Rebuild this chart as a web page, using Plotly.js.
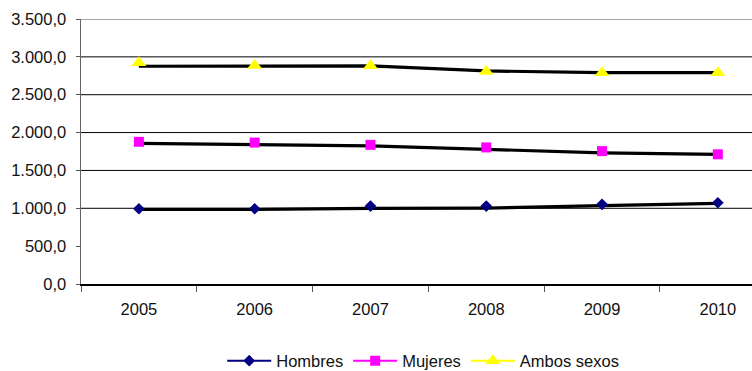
<!DOCTYPE html>
<html>
<head>
<meta charset="utf-8">
<script src="https://cdn.plot.ly/plotly-3.0.1.min.js"></script>
<style>
  html, body { margin: 0; padding: 0; background: #fff; }
  #chart { width: 752px; height: 371px; }
  /* legend entries keep full colour even though their traces only live in the legend */
  .legend .traces { opacity: 1 !important; }
</style>
</head>
<body>
<div id="chart"></div>
<script>
// Categories
const years = ['2005', '2006', '2007', '2008', '2009', '2010'];

// Series values (markers)
const hombres = [994, 994, 1029, 1029, 1052, 1073];
const mujeres = [1878, 1868, 1838, 1804, 1755, 1713];
const ambosSexos = [2923, 2886, 2884, 2808, 2791, 2791];

// Black trend lines drawn through each series
const hombresTrend = [986, 986, 999, 1003, 1034, 1065];
const mujeresTrend = [1857, 1839, 1825, 1778, 1733, 1712];
const ambosTrend = [2876, 2876, 2880, 2814, 2791, 2791];

// Y axis ticks and their labels
const yTicks = [0, 500, 1000, 1500, 2000, 2500, 3000, 3500];
const yTickText = ['0,0', '500,0', '1.000,0', '1.500,0', '2.000,0', '2.500,0', '3.000,0', '3.500,0'];
const gridValues = [1000, 1500, 2000, 2500, 3000];

const seriesNames = ['Hombres', 'Mujeres', 'Ambos sexos'];
const seriesValues = [hombres, mujeres, ambosSexos];
const trendValues = [hombresTrend, mujeresTrend, ambosTrend];
const colors = ['#000080', '#FF00FF', '#FFFF00'];
const symbols = ['diamond', 'square', 'triangle-up'];
const sizes = [9, 10, 13];

const FONT = "'Liberation Sans', Arial, sans-serif";
const traces = [];

// legend entries
seriesNames.forEach((name, i) => {
  traces.push({
    x: years, y: seriesValues[i], name: name, type: 'scatter', mode: 'lines+markers',
    visible: 'legendonly',
    line: { color: colors[i], width: 2 },
    marker: { color: colors[i], symbol: symbols[i], size: sizes[i], line: { width: 0 } }
  });
});

// black lines
trendValues.forEach((vals) => {
  traces.push({
    x: years, y: vals, type: 'scatter', mode: 'lines', showlegend: false, hoverinfo: 'skip',
    line: { color: '#000000', width: 3.2 }
  });
});

// markers on top
seriesNames.forEach((name, i) => {
  traces.push({
    x: years, y: seriesValues[i], name: name, type: 'scatter', mode: 'markers', showlegend: false,
    marker: { color: colors[i], symbol: symbols[i], size: sizes[i], line: { width: 0 } }
  });
});

const shapes = gridValues.map(v => ({
  type: 'line', xref: 'paper', x0: 0, x1: 1, yref: 'y', y0: v, y1: v,
  line: { color: '#000000', width: 1 }, layer: 'below'
}));
shapes.push({
  type: 'line', xref: 'paper', x0: 0, x1: 1, yref: 'y', y0: 3500, y1: 3500,
  line: { color: '#888888', width: 1.5 }, layer: 'below'
});

const layout = {
  width: 752, height: 371,
  margin: { l: 81, r: 0, t: 19, b: 87, autoexpand: false },
  paper_bgcolor: '#ffffff', plot_bgcolor: '#ffffff',
  font: { family: FONT, size: 16, color: '#111111' },
  showlegend: true,
  xaxis: {
    type: 'category', range: [-0.5, 5.295], tickson: 'boundaries',
    ticks: 'outside', ticklen: 6, tickcolor: '#555555', tickwidth: 1,
    showline: true, linecolor: '#000000', linewidth: 1.5,
    showgrid: false, zeroline: false,
    tickfont: { family: FONT, size: 16.5, color: '#111111' },
    ticklabelstandoff: 10
  },
  yaxis: {
    range: [0, 3500], tickmode: 'array', tickvals: yTicks, ticktext: yTickText,
    ticks: 'outside', ticklen: 4, tickcolor: '#555555',
    showline: true, linecolor: '#666666', linewidth: 1.5,
    showgrid: false, zeroline: false,
    tickfont: { family: FONT, size: 16.5, color: '#111111' },
    ticklabelstandoff: 6
  },
  legend: {
    orientation: 'h', x: 0.51, xanchor: 'center',
    yref: 'container', y: 0.027, yanchor: 'middle',
    font: { family: FONT, size: 16.5, color: '#111111' },
    itemwidth: 44,
    itemclick: false, itemdoubleclick: false
  },
  shapes: shapes
};

Plotly.newPlot('chart', traces, layout, { staticPlot: true, displayModeBar: false });
</script>
</body>
</html>
